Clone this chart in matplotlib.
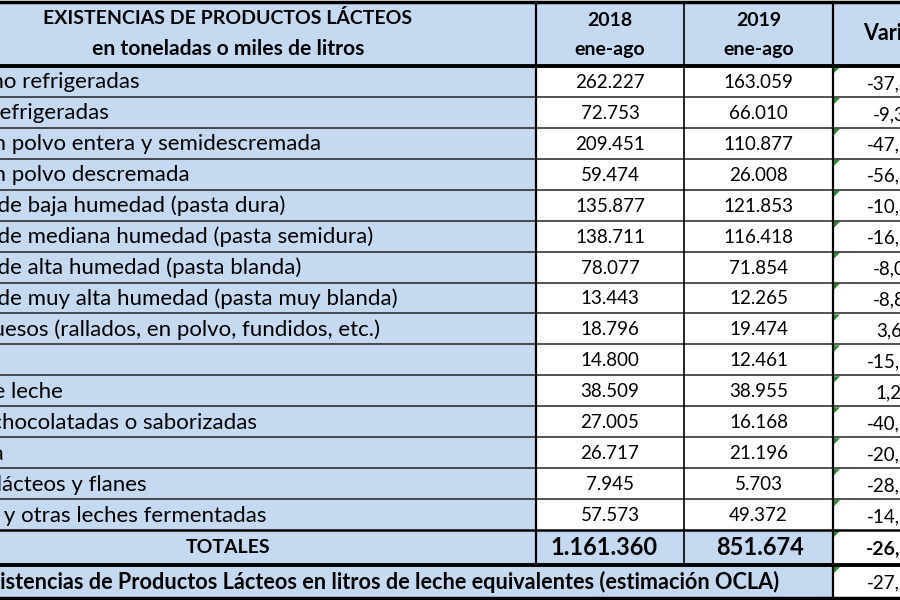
import matplotlib.pyplot as plt
from matplotlib.patches import Rectangle, Polygon

plt.rcParams['font.family'] = ['Lato', 'DejaVu Sans']

# tabla de existencias (toneladas o miles de litros)
productos = [
    "Leches no refrigeradas",
    "Leches refrigeradas",
    "Leche en polvo entera y semidescremada",
    "Leche en polvo descremada",
    "Quesos de baja humedad (pasta dura)",
    "Quesos de mediana humedad (pasta semidura)",
    "Quesos de alta humedad (pasta blanda)",
    "Quesos de muy alta humedad (pasta muy blanda)",
    "Otros quesos (rallados, en polvo, fundidos, etc.)",
    "Crema",
    "Dulce de leche",
    "Leches chocolatadas o saborizadas",
    "Manteca",
    "Postres lácteos y flanes",
    "Yogures y otras leches fermentadas",
]
v2018 = ["262.227", "72.753", "209.451", "59.474", "135.877", "138.711", "78.077",
         "13.443", "18.796", "14.800", "38.509", "27.005", "26.717", "7.945", "57.573"]
v2019 = ["163.059", "66.010", "110.877", "26.008", "121.853", "116.418", "71.854",
         "12.265", "19.474", "12.461", "38.955", "16.168", "21.196", "5.703", "49.372"]
variacion = ["-37,8%", "-9,3%", "-47,1%", "-56,3%", "-10,3%", "-16,1%", "-8,0%",
             "-8,8%", "3,6%", "-15,8%", "1,2%", "-40,1%", "-20,7%", "-28,2%", "-14,2%"]
total_2018 = "1.161.360"
total_2019 = "851.674"
total_var = "-26,7%"
litros_label = "Total Existencias de Productos Lácteos en litros de leche equivalentes (estimación OCLA)"
litros_var = "-27,5%"

blue = '#c5d9f1'
green = '#2e8b2e'
fs_lab = 16
fs_num = 13.5
fs_head = 14

fig = plt.figure(figsize=(9, 6), dpi=100)
ax = fig.add_axes([0, 0, 1, 1])
ax.set_xlim(0, 900)
ax.set_ylim(600, 0)
ax.axis('off')

cols = [-80, 536, 684, 833, 960]
head_top, head_bot = 2, 66
row_h = (530 - head_bot) / len(productos)
tot_top, tot_bot, last_bot = 530, 565, 598

# left edge of the row labels: the cropped picture starts inside "Leche e|n polvo"
fig.canvas.draw()
probe = ax.text(0, 0, "Leche e", fontsize=fs_lab)
w = probe.get_window_extent(fig.canvas.get_renderer()).width
probe.remove()
lab_x = 3 - w - 9


def cell(x0, x1, y0, y1, color):
    ax.add_patch(Rectangle((x0, y0), x1 - x0, y1 - y0, facecolor=color, edgecolor='none'))


def mid(a, b):
    return (a + b) / 2


def flag(x, y):
    ax.add_patch(Polygon([(x + 1, y + 1), (x + 7, y + 1), (x + 1, y + 7)],
                         facecolor=green, edgecolor='none'))


# header
cell(cols[0], cols[4], head_top, head_bot, blue)
ax.text(228, 18, "EXISTENCIAS DE PRODUCTOS LÁCTEOS", ha='center', va='center',
        fontsize=fs_head, fontweight='bold')
ax.text(228, 49, "en toneladas o miles de litros", ha='center', va='center',
        fontsize=15.2, fontweight='bold')
for i, yr in enumerate(["2018", "2019"]):
    xc = mid(cols[i + 1], cols[i + 2])
    ax.text(xc, 20, yr, ha='center', va='center', fontsize=fs_head, fontweight='bold')
    ax.text(xc, 50, "ene-ago", ha='center', va='center', fontsize=fs_head, fontweight='bold')
ax.text(863, 33, "Variación", ha='left', va='center', fontsize=15.5, fontweight='bold')

# filas
for i, name in enumerate(productos):
    y0 = head_bot + i * row_h
    y1 = y0 + row_h
    yc = mid(y0, y1)
    cell(cols[0], cols[1], y0, y1, blue)
    cell(cols[1], cols[4], y0, y1, 'white')
    ax.text(lab_x, yc + 1, name, ha='left', va='center', fontsize=fs_lab)
    ax.text(mid(cols[1], cols[2]), yc + 1, v2018[i], ha='center', va='center', fontsize=fs_num)
    ax.text(mid(cols[2], cols[3]), yc + 1, v2019[i], ha='center', va='center', fontsize=fs_num)
    ax.text(mid(cols[3], cols[4]), yc + 2, variacion[i], ha='center', va='center', fontsize=fs_num)
    flag(cols[3], y0)
    if i > 0:
        ax.plot([cols[0], cols[4]], [y0, y0], color='#222222', lw=1.1)

# totales
cell(cols[0], cols[3], tot_top, tot_bot, blue)
cell(cols[3], cols[4], tot_top, tot_bot, 'white')
yc = mid(tot_top, tot_bot)
ax.text(228, yc, "TOTALES", ha='center', va='center', fontsize=fs_head, fontweight='bold')
ax.text(604, yc, total_2018, ha='center', va='center', fontsize=17, fontweight='bold')
ax.text(760, yc, total_2019, ha='center', va='center', fontsize=17, fontweight='bold')
ax.text(mid(cols[3], cols[4]), yc + 1, total_var, ha='center', va='center', fontsize=fs_head, fontweight='bold')
flag(cols[3], tot_top)

# litros equivalentes
cell(cols[0], cols[3], tot_bot, 600, blue)
cell(cols[3], cols[4], tot_bot, 600, 'white')
yc = mid(tot_bot, last_bot)
ax.text(779, yc, litros_label, ha='right', va='center', fontsize=15.6, fontweight='bold')
ax.text(mid(cols[3], cols[4]), yc + 1, litros_var, ha='center', va='center', fontsize=fs_num)
flag(cols[3], tot_bot + 1)

# bordes
ax.plot([cols[0], cols[4]], [head_top, head_top], color='black', lw=2.5)
ax.plot([cols[0], cols[4]], [head_bot, head_bot], color='black', lw=2.8)
ax.plot([cols[0], cols[4]], [tot_top, tot_top], color='black', lw=1.8)
ax.plot([cols[0], cols[4]], [tot_bot, tot_bot], color='black', lw=2.8)
ax.plot([cols[0], cols[4]], [last_bot, last_bot], color='black', lw=2.5)
ax.plot([cols[1], cols[1]], [head_top, tot_bot], color='black', lw=1.6)
ax.plot([cols[2], cols[2]], [head_top, tot_bot], color='black', lw=1.2)
ax.plot([cols[3], cols[3]], [head_top, last_bot], color='black', lw=1.6)

fig.savefig('out.png', dpi=100)
